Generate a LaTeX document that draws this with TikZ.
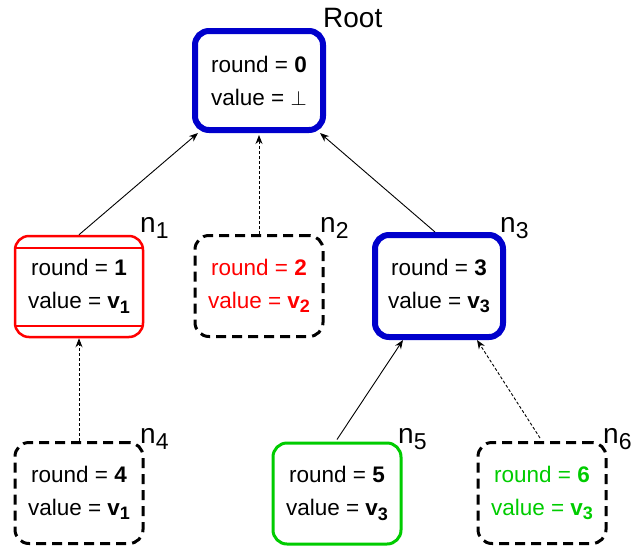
\documentclass[tikz,border=0pt]{standalone}
\usepackage{fontspec}
\setmainfont{Liberation Sans}
\usetikzlibrary{arrows.meta,calc}
\definecolor{rootblue}{RGB}{0,0,204}
\definecolor{okgreen}{RGB}{0,204,0}
\definecolor{errred}{RGB}{255,0,0}
\newcommand{\vsb}[1]{\raisebox{-4.5pt}{\fontsize{18}{18}\selectfont\bfseries #1}}
\newcommand{\nsb}[1]{\raisebox{-6pt}{\fontsize{23}{23}\selectfont #1}}
\begin{document}
\begin{tikzpicture}[x=1pt,y=-1pt,
 box/.style={rectangle, rounded corners=14pt, minimum width=128pt, minimum height=101pt, inner sep=0pt, align=center, font=\fontsize{22.5}{33}\selectfont},
 thickblue/.style={box, draw=rootblue, line width=6pt},
 redbox/.style={box, draw=errred, line width=2.5pt},
 greenbox/.style={box, draw=okgreen, line width=3pt},
 dashbox/.style={box, draw=black, line width=3pt, dash pattern=on 10pt off 6pt},
 lbl/.style={anchor=base west, inner sep=0pt, font=\fontsize{28}{28}\selectfont},
 edge/.style={-{Stealth[length=9pt,width=7pt]}, line width=0.9pt},
 dotedge/.style={edge, dash pattern=on 3pt off 2pt}]

\useasboundingbox (0,0) rectangle (634,549);

\node[thickblue, minimum height=99pt] (root) at (259,80.5) {round = \textbf{0}\\value = $\perp$};
\node[redbox] (n1) at (79,286.5) {round = \textbf{1}\\value = \textbf{v}\vsb{1}};
\node[dashbox, text=errred] (n2) at (259,286) {round = \textbf{2}\\value = \textbf{v}\vsb{2}};
\node[thickblue, minimum height=102pt] (n3) at (439,286) {round = \textbf{3}\\value = \textbf{v}\vsb{3}};
\node[dashbox] (n4) at (79,493) {round = \textbf{4}\\value = \textbf{v}\vsb{1}};
\node[greenbox] (n5) at (337,493.5) {round = \textbf{5}\\value = \textbf{v}\vsb{3}};
\node[dashbox, text=okgreen] (n6) at (542,493) {round = \textbf{6}\\value = \textbf{v}\vsb{3}};

\draw[errred, line width=2.5pt] ($(n1.center)+(-64,-38.5)$) -- ($(n1.center)+(64,-38.5)$);
\draw[errred, line width=2.5pt] ($(n1.center)+(-64,39.5)$) -- ($(n1.center)+(64,39.5)$);

\node[lbl] (lroot) at (323,27) {Root};
\node[lbl] (l1) at (140,232) {n\nsb{1}};
\node[lbl] (l2) at (320,232) {n\nsb{2}};
\node[lbl] (l3) at (500,232) {n\nsb{3}};
\node[lbl] (l4) at (140,443) {n\nsb{4}};
\node[lbl] (l5) at (398,443) {n\nsb{5}};
\node[lbl] (l6) at (603,443) {n\nsb{6}};

\draw[edge] (n1.north) -- ($(root.south west)+(6,0)$);
\draw[dotedge] (n2.north) -- ($(root.south)+(0,2)$);
\draw[edge] ($(n3.north)+(-4,0)$) -- ($(root.south east)+(-6,0)$);
\draw[dotedge] (n4.north) -- (n1.south);
\draw[edge] ($(n5.north)+(0,-2)$) -- ($(n3.south)+(-36,0)$);
\draw[dotedge] ($(n6.north)+(-2,-3)$) -- ($(n3.south)+(38,0)$);
\end{tikzpicture}
\end{document}
